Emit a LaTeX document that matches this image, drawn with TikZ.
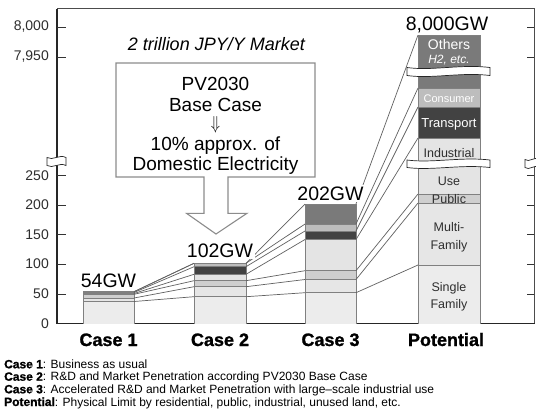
\documentclass[tikz,border=0pt]{standalone}
\usepackage{fontspec}
\usepackage{graphicx}
\setmainfont{Liberation Sans}
\newfontfamily\heavyfont{Liberation Sans Bold}[FakeBold=1.2]
\definecolor{oth}{HTML}{7A7A7A}
\definecolor{con}{HTML}{BDBDBD}
\definecolor{tra}{HTML}{424242}
\definecolor{ind}{HTML}{E4E4E4}
\definecolor{pub}{HTML}{CFCFCF}
\definecolor{mul}{HTML}{E6E6E6}
\definecolor{sin}{HTML}{ECECEC}
\definecolor{txt}{HTML}{2E2E2E}
\newcommand\breakband[4]{%
  \begin{scope}[shift={(#1,#3)}, xscale=#2, yscale=#4]
    \draw[brkline] (0,0) .. controls (0.3,0.45) and (0.65,-0.45) .. (1,0) -- (1,1)
      .. controls (0.65,0.55) and (0.3,1.45) .. (0,1) -- cycle;
  \end{scope}}
\newcommand\heavy[1]{{\heavyfont #1}}
\begin{document}
\begin{tikzpicture}[x=1pt,y=-1pt,
  brkline/.style={draw=black!85, fill=white, line width=0.7pt},
  barline/.style={draw=black!50, line width=0.7pt},
  conn/.style={draw=black!62, line width=0.7pt},
  tick/.style={draw=black!80, line width=0.8pt},
  ticklab/.style={font=\fontsize{14}{14}\selectfont, text=txt, anchor=east, inner sep=0pt},
  gwlab/.style={font=\fontsize{19.5}{19.5}\selectfont, fill=white, inner sep=1.5pt, anchor=base},
  boxtext/.style={font=\fontsize{19}{19}\selectfont, anchor=base, inner sep=0pt},
  cat/.style={font=\heavyfont\fontsize{18}{18}\selectfont, anchor=base, inner sep=0pt},
  foot/.style={font=\fontsize{12}{12}\selectfont, anchor=base west, inner sep=0pt},
  plab/.style={font=\fontsize{12.5}{12.5}\selectfont, text=txt, inner sep=0pt},
  wlab/.style={font=\fontsize{13}{13}\selectfont, text=white, inner sep=0pt},
  boxarrow/.style={draw=black!45, fill=white, line width=1.1pt}]
\useasboundingbox (0,0) rectangle (536,413);
\fill[white] (0,0) rectangle (536,413);
% frame
\draw[black!70, line width=0.9pt] (57,8.5) -- (534,8.5) -- (534,323.5);
\draw[black!85, line width=1.3pt] (57,8.5) -- (57,323.5);
\draw[black!85, line width=1.8pt] (56.5,323.5) -- (534.5,323.5);
\foreach \yy in {27,57,175.5,205,234.5,264,294} {
  \draw[tick] (57,\yy) -- (66,\yy);
  \draw[tick] (527,\yy) -- (534,\yy);
}
% tick labels
\node[ticklab] (t8000) at (49,27) {8,000};
\node[ticklab] (t7950) at (49,57) {7,950};
\node[ticklab] (t250) at (49,175.5) {250};
\node[ticklab] (t200) at (49,205) {200};
\node[ticklab] (t150) at (49,234.5) {150};
\node[ticklab] (t100) at (49,264) {100};
\node[ticklab] (t50) at (49,294) {50};
\node[ticklab] (t0) at (49,323.5) {0};
% bars
\foreach \nm/\xa/\xb/\bA/\bB/\bC/\bD/\bE/\bF/\bG in {
  ca/83/134/291.7/291.7/292.5/293.5/294.3/298/301.5,
  cb/194/246/263.3/263.3/266.7/274.3/280.7/286.7/296.7,
  cc/305/356/204/224/231/239.5/270.7/279.5/292.7,
  pt/418/480/35/88/107/138/194/203/265} {
  \fill[oth] (\xa,\bA) rectangle (\xb,\bB);
  \fill[con] (\xa,\bB) rectangle (\xb,\bC);
  \fill[tra] (\xa,\bC) rectangle (\xb,\bD);
  \fill[ind] (\xa,\bD) rectangle (\xb,\bE);
  \fill[pub] (\xa,\bE) rectangle (\xb,\bF);
  \fill[mul] (\xa,\bF) rectangle (\xb,\bG);
  \fill[sin] (\xa,\bG) rectangle (\xb,323.5);
  \foreach \b [count=\k] in {\bA,\bB,\bC,\bD,\bE,\bF,\bG} {
    \draw[barline] (\xa,\b) -- (\xb,\b);
    \coordinate (\nm l\k) at (\xa,\b);
    \coordinate (\nm r\k) at (\xb,\b);
  }
  \draw[barline] (\xa,323.5) -- (\xa,\bA) -- (\xb,\bA) -- (\xb,323.5);
}
% connectors
\foreach \k in {1,...,7} {
  \draw[conn] (car\k) -- (cbl\k);
  \draw[conn] (cbr\k) -- (ccl\k);
  \draw[conn] (ccr\k) -- (ptl\k);
}
% breaks
\breakband{407}{83}{67.5}{8}
\breakband{407}{83}{160}{7.5}
\breakband{47}{19}{157.5}{8}
\breakband{525}{14}{159.5}{8}
% potential labels
\node[wlab, font=\fontsize{14}{14}\selectfont] (lo) at (449,44) {Others};
\node[wlab, font=\itshape\fontsize{12}{12}\selectfont] (lh) at (449,60.5) {H2, etc.};
\node[wlab, font=\fontsize{11}{11}\selectfont] (lc) at (449,98.5) {Consumer};
\node[wlab] (lt) at (449,124.5) {Transport};
\node[plab] (li) at (449,153) {Industrial};
\node[plab] (lu) at (449,181.5) {Use};
\node[plab] (lp) at (449,199) {Public};
\node[plab] (lm1) at (449,227) {Multi-};
\node[plab] (lm2) at (449,246) {Family};
\node[plab] (ls1) at (449,288) {Single};
\node[plab] (ls2) at (449,305) {Family};
% GW labels
\node[gwlab] (g54) at (108.5,287.5) {54GW};
\node[gwlab] (g102) at (220,257) {102GW};
\node[gwlab] (g202) at (330.5,200) {202GW};
\node[gwlab] (g8000) at (447,30.7) {8,000GW};
% box with arrow
\draw[boxarrow] (116,63) -- (315,63) -- (315,177) -- (228,177) -- (228,213.3)
  -- (247,213.3) -- (216,234) -- (186.5,213.3) -- (204,213.3) -- (204,177)
  -- (116,177) -- cycle;
\node[font=\itshape\fontsize{18}{18}\selectfont, anchor=base, inner sep=0pt] (mkt) at (216.3,50) {2 trillion JPY/Y Market};
\node[boxtext] (b1) at (215.5,90.7) {PV2030};
\node[boxtext] (b2) at (215.5,111.7) {Base Case};
\node[font=\fontsize{14}{14}\selectfont, inner sep=0pt] (b3) at (215.5,124.5) {\scalebox{1.05}[1.3]{$\Downarrow$}};
\node[boxtext] (b4) at (215.5,150.5) {10\% approx. of};
\node[boxtext] (b5) at (215.5,170.3) {Domestic Electricity};
% categories
\node[cat] (k1) at (108.5,346) {Case 1};
\node[cat] (k2) at (220,346) {Case 2};
\node[cat] (k3) at (330.5,346) {Case 3};
\node[cat] (k4) at (446,346) {Potential};
% footer
\node[foot] (f1) at (4,368.3) {\heavy{Case 1}: Business as usual};
\node[foot] (f2) at (4,380.7) {\heavy{Case 2}: R\&D and Market Penetration according PV2030 Base Case};
\node[foot] (f3) at (4,393.3) {\heavy{Case 3}: Accelerated R\&D and Market Penetration with large–scale industrial use};
\node[foot] (f4) at (4,406) {\heavy{Potential}: Physical Limit by residential, public, industrial, unused land, etc.};
\end{tikzpicture}
\end{document}
